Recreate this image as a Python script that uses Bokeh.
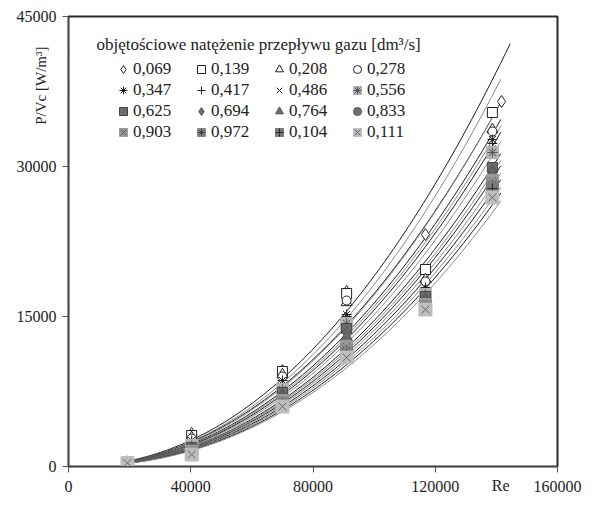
import numpy as np
from math import pi
from bokeh.plotting import figure
from bokeh.models import Range1d, FixedTicker, NumeralTickFormatter, Legend, LegendItem, Label
from bokeh.embed import file_html
from bokeh.resources import INLINE

# ---- data ----
series_names = ["0,069", "0,139", "0,208", "0,278", "0,347", "0,417", "0,486", "0,556",
                "0,625", "0,694", "0,764", "0,833", "0,903", "0,972", "0,104", "0,111"]
Re = [19300, 40300, 70000, 91000, 116800, 138700]
Re_069 = [19300, 40300, 70000, 91000, 116800, 141700]

pv_069 = [450, 3300, 9600, 17500, 23200, 36500]
pv_139 = [420, 3100, 9500, 17300, 19700, 35400]
pv_208 = [430, 2900, 9200, 16400, 18700, 33700]
pv_278 = [410, 2800, 9000, 16600, 18500, 33500]
pv_347 = [400, 2600, 8600, 15200, 17900, 32700]
pv_417 = [400, 2400, 8300, 15000, 17800, 32300]
pv_486 = [390, 2300, 8000, 14800, 17500, 31800]
pv_556 = [390, 2100, 7700, 14300, 17200, 31400]
pv_625 = [380, 1900, 7400, 13800, 17000, 29900]
pv_694 = [380, 1800, 7200, 13400, 16800, 29600]
pv_764 = [370, 1700, 7000, 13000, 16600, 29300]
pv_833 = [370, 1600, 6800, 12500, 16400, 29000]
pv_903 = [360, 1500, 6600, 12000, 16200, 28600]
pv_972 = [360, 1400, 6400, 11600, 16000, 28200]
pv_104 = [350, 1300, 6200, 11200, 15800, 27800]
pv_111 = [350, 1200, 6000, 10900, 15700, 26900]

all_pv = [pv_069, pv_139, pv_208, pv_278, pv_347, pv_417, pv_486, pv_556,
          pv_625, pv_694, pv_764, pv_833, pv_903, pv_972, pv_104, pv_111]
all_re = [Re_069] + [Re] * 15

x_ticks = [0, 40000, 80000, 120000, 160000]
y_ticks = [0, 15000, 30000, 45000]

SERIF = "Liberation Serif"
NB = "\u00a0"

p = figure(width=600, height=505, output_backend="svg", toolbar_location=None,
           x_range=Range1d(0, 160000), y_range=Range1d(0, 45000),
           min_border_left=68, min_border_right=43, min_border_top=16, min_border_bottom=39)
p.xgrid.visible = False
p.ygrid.visible = False
p.outline_line_color = "#2a2a2a"
p.outline_line_width = 2
p.background_fill_color = "white"

for ax, ticks in ((p.xaxis[0], x_ticks), (p.yaxis[0], y_ticks)):
    ax.ticker = FixedTicker(ticks=ticks)
    ax.formatter = NumeralTickFormatter(format="0")
    ax.minor_tick_line_color = None
    ax.major_tick_in = 0
    ax.major_tick_out = 6
    ax.major_tick_line_color = "#555555"
    ax.axis_line_color = "#444444"
    ax.major_label_text_font = SERIF
    ax.major_label_text_font_size = "16px"
    ax.major_label_text_color = "#222222"
    ax.axis_label_text_font = SERIF
    ax.axis_label_text_font_style = "normal"
    ax.axis_label_text_color = "#222222"
p.xaxis.major_label_standoff = 8
p.yaxis.major_label_standoff = 6

# axis titles (anchored at the axis end, text ending there)
p.yaxis.axis_label = "P/Vc [W/m³]" + NB * 8
p.yaxis.axis_label_text_font_size = "15px"
p.yaxis.axis_label_standoff = -27
p.yaxis.axis_label_orientation = pi / 2
p.yaxis.axis_label_align = "end"
p.xaxis.axis_label = "Re" + NB * 12
p.xaxis.axis_label_text_font_size = "16px"
p.xaxis.axis_label_text_line_height = 0.5
p.xaxis.axis_label_standoff = -9
p.xaxis.axis_label_orientation = 0.0001
p.xaxis.axis_label_align = "end"

# ---- trendlines (power fits of each series) ----
line_colors = ["#1e1e1e", "#8a8a8a"]
for i, (xs, ys) in enumerate(zip(all_re, all_pv)):
    lx = np.log(np.array(xs, dtype=float))
    ly = np.log(np.array(ys, dtype=float))
    b, a = np.polyfit(lx, ly, 1)
    xf = np.linspace(xs[0], max(xs) * 1.02, 80)
    yf = np.exp(a) * xf ** b
    p.line(xf, yf, line_color=line_colors[i % 2], line_width=1)

# ---- markers ----
def mk(xs, ys, marker, fill, line, size=9, lw=1):
    return p.scatter(xs, ys, marker=marker, size=size, fill_color=fill,
                     line_color=line, line_width=lw)

styles = [
    [("diamond", "white", "#222222", 12)],
    [("square", "white", "#222222", 10)],
    [("triangle", "white", "#222222", 11)],
    [("circle", "white", "#222222", 9)],
    [("asterisk", None, "#222222", 10)],
    [("cross", None, "#222222", 10)],
    [("x", None, "#222222", 9)],
    [("square", "#b4b4b4", "#b4b4b4", 12), ("asterisk", None, "#555555", 10)],
    [("square", "#6e6e6e", "#444444", 10)],
    [("diamond", "#6e6e6e", "#555555", 12)],
    [("triangle", "#6e6e6e", "#555555", 11)],
    [("circle", "#6e6e6e", "#555555", 9)],
    [("square", "#9a9a9a", "#9a9a9a", 12), ("x", None, "#555555", 10)],
    [("square", "#8e8e8e", "#8e8e8e", 12), ("asterisk", None, "#444444", 10)],
    [("square", "#7a7a7a", "#7a7a7a", 12), ("cross", None, "#2a2a2a", 10)],
    [("square", "#bdbdbd", "#bdbdbd", 13), ("x", None, "#666666", 11)],
]

items = []
for name, xs, ys, st in zip(series_names, all_re, all_pv, styles):
    rs = [mk(xs, ys, m, f, l, s) for (m, f, l, s) in st]
    items.append(LegendItem(label=name, renderers=rs))

# legend fills column by column: reorder so that rows read 4 per line
ordered = [items[4 * r + c] for c in range(4) for r in range(4)]

legend = Legend(items=ordered, ncols=4, location=(45, 324),
                label_text_font=SERIF, label_text_font_size="17px", label_text_color="#222222",
                glyph_width=20, glyph_height=20, label_standoff=0, label_width=57,
                label_height=18, spacing=1, padding=0, margin=0,
                background_fill_alpha=0, border_line_alpha=0)
p.add_layout(legend, "center")

p.add_layout(Label(x=28, y=422, x_units="screen", y_units="screen",
                   text="objętościowe natężenie przepływu gazu [dm³/s]",
                   text_font=SERIF, text_font_size="17px", text_color="#222222",
                   text_baseline="middle"))

open("out.html", "w").write(file_html(p, INLINE))
